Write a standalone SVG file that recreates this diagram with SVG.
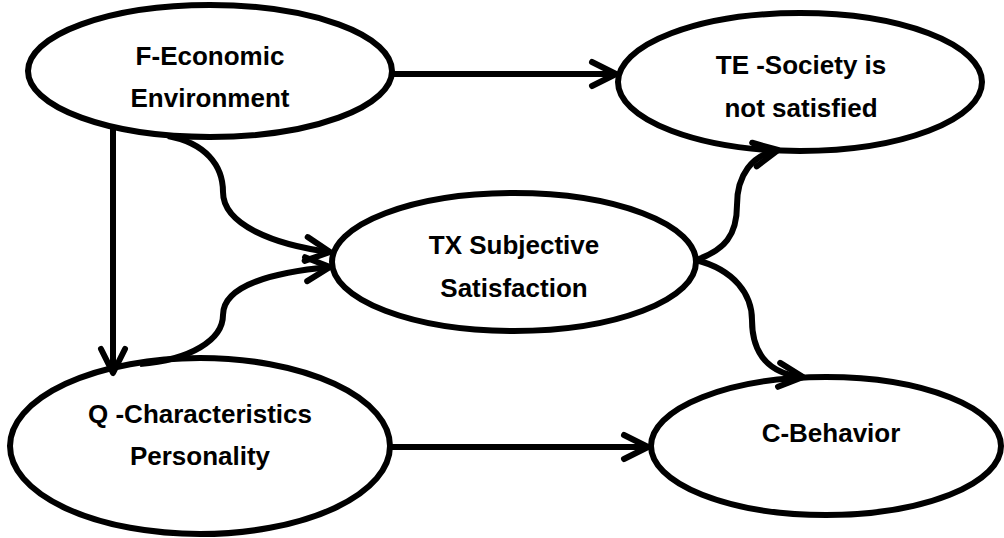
<svg xmlns="http://www.w3.org/2000/svg" width="1004" height="538" viewBox="0 0 1004 538">
<defs>
<marker id="arr" markerUnits="userSpaceOnUse" markerWidth="40" markerHeight="40" viewBox="-30 -20 40 40" refX="0" refY="0" orient="auto">
<path d="M -24 -12 L 0 0 L -24 12" fill="none" stroke="#000" stroke-width="6" stroke-linecap="round" stroke-linejoin="round"/>
</marker>
<style>
.node ellipse{fill:#fff;stroke:#000;stroke-width:6}
.node text{font-family:"Liberation Sans",Arial,sans-serif;font-weight:bold;font-size:26px;fill:#000;text-anchor:middle}
.edge{fill:none;stroke:#000;stroke-width:6;marker-end:url(#arr)}
</style>
</defs>
<rect width="1004" height="538" fill="#fff"/>
<g id="node-F" class="node">
<ellipse cx="210" cy="71" rx="182" ry="66"/>
<text x="210" y="65">F-Economic</text>
<text x="210" y="107">Environment</text>
</g>
<g id="node-TE" class="node">
<ellipse cx="800" cy="82" rx="182" ry="69"/>
<text x="801" y="74">TE -Society is</text>
<text x="801" y="117">not satisfied</text>
</g>
<g id="node-TX" class="node">
<ellipse cx="514" cy="262" rx="182" ry="69"/>
<text x="514" y="254">TX Subjective</text>
<text x="514" y="297">Satisfaction</text>
</g>
<g id="node-Q" class="node">
<ellipse cx="200" cy="446" rx="190" ry="88"/>
<text x="200" y="423">Q -Characteristics</text>
<text x="200" y="465">Personality</text>
</g>
<g id="node-C" class="node">
<ellipse cx="826" cy="446" rx="175" ry="69"/>
<text x="831" y="442">C-Behavior</text>
</g>
<g id="connectors">
<path class="edge" d="M 392 74 L 616 74"/>
<path class="edge" d="M 113 128 L 113 373"/>
<path class="edge" d="M 168 136 C 205 143, 223 165, 223 192 C 223 225, 275 245, 330 252"/>
<path class="edge" d="M 140 364 C 190 360, 223 340, 223 315 C 223 285, 275 272, 330 267"/>
<path class="edge" d="M 696 260 C 725 250, 737 235, 737 205 C 737 175, 752 155, 778 150"/>
<path class="edge" d="M 696 260 C 735 270, 752 295, 752 320 C 752 355, 770 374, 803 377"/>
<path class="edge" d="M 390 447 L 648 447"/>
</g>
</svg>
